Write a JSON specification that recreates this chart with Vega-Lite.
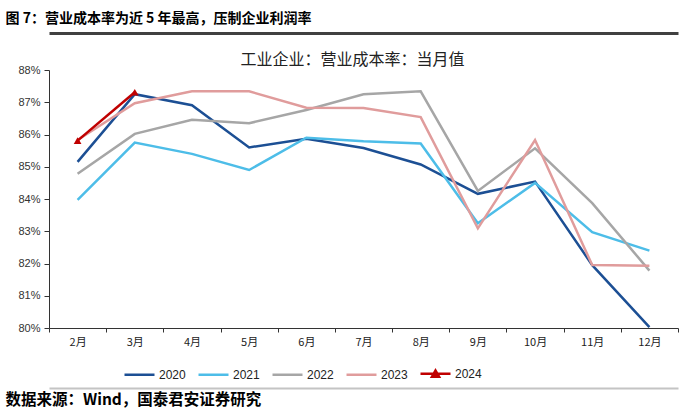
{
  "$schema": "https://vega.github.io/schema/vega-lite/v6.json",
  "width": 629,
  "height": 258,
  "autosize": {"type": "none"},
  "padding": {"left": 49, "top": 70, "right": 22, "bottom": 87},
  "background": "white",
  "config": {"view": {"stroke": null}, "axis": {"grid": false}, "font": "Liberation Sans"},
  "datasets": {
    "cost": [
      {"month": "2月", "year": "2020", "v": 85.15},
      {"month": "3月", "year": "2020", "v": 87.25},
      {"month": "4月", "year": "2020", "v": 86.91},
      {"month": "5月", "year": "2020", "v": 85.60},
      {"month": "6月", "year": "2020", "v": 85.87},
      {"month": "7月", "year": "2020", "v": 85.58},
      {"month": "8月", "year": "2020", "v": 85.07},
      {"month": "9月", "year": "2020", "v": 84.16},
      {"month": "10月", "year": "2020", "v": 84.54},
      {"month": "11月", "year": "2020", "v": 81.95},
      {"month": "12月", "year": "2020", "v": 80.03},
      {"month": "2月", "year": "2021", "v": 83.97},
      {"month": "3月", "year": "2021", "v": 85.75},
      {"month": "4月", "year": "2021", "v": 85.40},
      {"month": "5月", "year": "2021", "v": 84.90},
      {"month": "6月", "year": "2021", "v": 85.90},
      {"month": "7月", "year": "2021", "v": 85.79},
      {"month": "8月", "year": "2021", "v": 85.72},
      {"month": "9月", "year": "2021", "v": 83.25},
      {"month": "10月", "year": "2021", "v": 84.50},
      {"month": "11月", "year": "2021", "v": 82.97},
      {"month": "12月", "year": "2021", "v": 82.40},
      {"month": "2月", "year": "2022", "v": 84.78},
      {"month": "3月", "year": "2022", "v": 86.02},
      {"month": "4月", "year": "2022", "v": 86.46},
      {"month": "5月", "year": "2022", "v": 86.35},
      {"month": "6月", "year": "2022", "v": 86.76},
      {"month": "7月", "year": "2022", "v": 87.25},
      {"month": "8月", "year": "2022", "v": 87.34},
      {"month": "9月", "year": "2022", "v": 84.25},
      {"month": "10月", "year": "2022", "v": 85.57},
      {"month": "11月", "year": "2022", "v": 83.87},
      {"month": "12月", "year": "2022", "v": 81.78},
      {"month": "2月", "year": "2023", "v": 85.83},
      {"month": "3月", "year": "2023", "v": 86.97},
      {"month": "4月", "year": "2023", "v": 87.34},
      {"month": "5月", "year": "2023", "v": 87.34},
      {"month": "6月", "year": "2023", "v": 86.83},
      {"month": "7月", "year": "2023", "v": 86.82},
      {"month": "8月", "year": "2023", "v": 86.54},
      {"month": "9月", "year": "2023", "v": 83.09},
      {"month": "10月", "year": "2023", "v": 85.83},
      {"month": "11月", "year": "2023", "v": 81.95},
      {"month": "12月", "year": "2023", "v": 81.93},
      {"month": "2月", "year": "2024", "v": 85.81},
      {"month": "3月", "year": "2024", "v": 87.31}
    ]
  },
  "data": {"name": "cost"},
  "resolve": {"axis": {"x": "independent"}},
  "layer": [
    {
      "transform": [{"filter": "datum.year == '2020' || datum.year == '2021'"}],
      "mark": {"type": "line", "strokeWidth": 2.5},
      "encoding": {
        "x": {
          "field": "month", "type": "ordinal", "bandPosition": 0.5,
          "scale": {"type": "band", "paddingInner": 0, "paddingOuter": 0, "domain": ["2月","3月","4月","5月","6月","7月","8月","9月","10月","11月","12月"]},
          "axis": {"orient": "bottom", "tickBand": "extent", "title": null, "labelAngle": 0, "labelFont": "Noto Sans CJK SC", "labelFontSize": 11, "labelColor": "#222222", "domainColor": "#333333", "tickColor": "#333333", "tickSize": 4, "labelPadding": 4}
        },
        "y": {
          "field": "v", "type": "quantitative",
          "scale": {"domain": [80, 88], "nice": false, "zero": false},
          "axis": {"title": null, "values": [80,81,82,83,84,85,86,87,88], "labelExpr": "datum.value + '%'", "tickSize": 5, "labelPadding": 4, "domainColor": "#333333", "tickColor": "#333333", "labelFontSize": 11, "labelColor": "#333333", "labelFont": "Liberation Sans"}
        },
        "color": {
          "field": "year", "type": "nominal",
          "scale": {"domain": ["2020","2021","2022","2023","2024"], "range": ["#1C4F94","#4DBDE8","#A6A6A6","#E09C9C","#C00000"]},
          "legend": {
            "title": null, "orient": "none", "legendX": 74, "legendY": 287, "direction": "horizontal", "columns": 5,
            "padding": 0, "symbolType": "stroke", "symbolSize": 900, "symbolStrokeWidth": 2.5, "labelOffset": 3,
            "columnPadding": 7, "labelFont": "Liberation Sans", "labelFontSize": 12, "labelColor": "#222222",
            "encode": {"symbols": {"update": {
              "shape": {"signal": "datum.value === '2024' ? 'M-1,0H1M-0.24,0.2L0,-0.22L0.24,0.2Z' : 'stroke'"},
              "fill": {"signal": "datum.value === '2024' ? '#C00000' : 'transparent'"}
            }}}
          }
        }
      }
    },
    {
      "transform": [{"filter": "datum.year == '2022'"}],
      "mark": {"type": "line", "strokeWidth": 2.5},
      "encoding": {
        "x": {
          "field": "month", "type": "ordinal", "bandPosition": 0.5,
          "axis": {"orient": "bottom", "offset": 60, "domain": true, "domainColor": "#C4C4C4", "domainWidth": 2, "ticks": false, "labels": false,
            "title": "数据来源：Wind，国泰君安证券研究", "titleAnchor": "start", "titleAlign": "left", "titleX": -44, "titlePadding": 4,
            "titleFont": "Noto Sans CJK SC", "titleFontSize": 15.5, "titleFontWeight": "bold", "titleColor": "#000000"}
        },
        "y": {"field": "v", "type": "quantitative", "axis": {"title": null, "values": [80,81,82,83,84,85,86,87,88], "labelExpr": "datum.value + '%'", "tickSize": 5, "labelPadding": 4, "domainColor": "#333333", "tickColor": "#333333", "labelFontSize": 11, "labelColor": "#333333", "labelFont": "Liberation Sans"}},
        "color": {"field": "year", "type": "nominal"}
      }
    },
    {
      "transform": [{"filter": "datum.year == '2023' || datum.year == '2024'"}],
      "mark": {"type": "line", "strokeWidth": 2.5},
      "encoding": {
        "x": {
          "field": "month", "type": "ordinal", "bandPosition": 0.5,
          "axis": {"orient": "top", "offset": 0, "domain": false, "ticks": false, "labels": false,
            "title": "工业企业：营业成本率：当月值", "titleX": 303, "titlePadding": 3,
            "titleFont": "Noto Sans CJK SC", "titleFontSize": 16, "titleFontWeight": "normal", "titleColor": "#222222"}
        },
        "y": {"field": "v", "type": "quantitative", "axis": {"title": null, "values": [80,81,82,83,84,85,86,87,88], "labelExpr": "datum.value + '%'", "tickSize": 5, "labelPadding": 4, "domainColor": "#333333", "tickColor": "#333333", "labelFontSize": 11, "labelColor": "#333333", "labelFont": "Liberation Sans"}},
        "color": {"field": "year", "type": "nominal"}
      }
    },
    {
      "transform": [{"filter": "datum.year == '2024'"}],
      "mark": {"type": "point", "shape": "triangle-up", "filled": true, "size": 60, "color": "#C00000", "opacity": 1},
      "encoding": {
        "x": {
          "field": "month", "type": "ordinal", "bandPosition": 0.5,
          "axis": {"orient": "top", "offset": 37, "domain": true, "domainColor": "#404040", "domainWidth": 3, "ticks": false, "labels": false,
            "title": "图 7：营业成本率为近 5 年最高，压制企业利润率", "titleAnchor": "start", "titleAlign": "left", "titleX": -44, "titlePadding": 8,
            "titleFont": "Noto Sans CJK SC", "titleFontSize": 14, "titleFontWeight": "bold", "titleColor": "#000000"}
        },
        "y": {"field": "v", "type": "quantitative", "axis": {"title": null, "values": [80,81,82,83,84,85,86,87,88], "labelExpr": "datum.value + '%'", "tickSize": 5, "labelPadding": 4, "domainColor": "#333333", "tickColor": "#333333", "labelFontSize": 11, "labelColor": "#333333", "labelFont": "Liberation Sans"}}
      }
    }
  ]
}
